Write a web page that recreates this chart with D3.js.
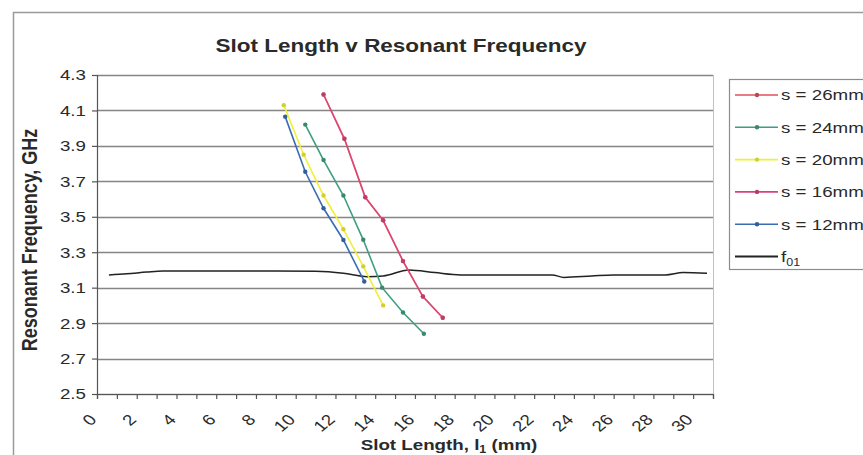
<!DOCTYPE html>
<html><head><meta charset="utf-8">
<script src="https://cdn.jsdelivr.net/npm/d3@7"></script>
<style>body{margin:0;background:#fff}svg{display:block;font-family:"Liberation Sans",Arial,sans-serif}</style>
</head><body><svg id="c" width="863" height="455"></svg>
<script>
const title = "Slot Length v Resonant Frequency";
const yTicks = [2.5, 2.7, 2.9, 3.1, 3.3, 3.5, 3.7, 3.9, 4.1, 4.3];
const xTickLabels = [0,2,4,6,8,10,12,14,16,18,20,22,24,26,28,30];
const xMinorTicks = d3.range(0, 32);
const seriesNames = ["s = 26mm","s = 24mm","s = 20mm","s = 16mm","s = 12mm"];
const seriesColors = ["#e0505e","#3f9e82","#f0f038","#d8407e","#3a6cb4"];
const s26x = [11.4,12.45,13.5,14.4,15.4,16.4,17.4];
const s26y = [4.19,3.94,3.61,3.48,3.25,3.05,2.93];
const s24x = [10.48,11.4,12.4,13.4,14.35,15.4,16.45];
const s24y = [4.02,3.82,3.62,3.37,3.10,2.96,2.84];
const s20x = [9.4,10.4,11.4,12.4,13.4,14.4];
const s20y = [4.13,3.85,3.62,3.43,3.22,3.00];
const s16x = [11.4,12.45,13.5,14.4,15.4,16.4,17.4];
const s16y = [4.19,3.94,3.61,3.48,3.25,3.05,2.93];
const s12x = [9.47,10.48,11.4,12.4,13.45];
const s12y = [4.065,3.754,3.548,3.369,3.135];
const f01x = [0.6,1.5,2.5,3.3,5,7,9,11,12.4,13.6,14.4,15.7,17,18.3,20,22,22.9,23.5,24.9,26,28,28.6,29.5,30.7];
const f01y = [3.172,3.178,3.188,3.194,3.194,3.194,3.194,3.192,3.181,3.162,3.166,3.2,3.185,3.172,3.172,3.172,3.172,3.158,3.166,3.172,3.172,3.172,3.185,3.181];

const SX = 1.25;
const svg = d3.select("#c");
const L = 97, R = 713, T = 75, B = 394;
const x = d3.scaleLinear().domain([0,31]).range([L,R]);
const y = d3.scaleLinear().domain([2.5,4.3]).range([B,T]);

// outer frame
svg.append("rect").attr("x",13.5).attr("y",12.5).attr("width",900).attr("height",500)
  .attr("fill","none").attr("stroke","#9a9a9a").attr("stroke-width",1.5);

// title
svg.append("text").attr("transform",`translate(401,52) scale(${SX},1)`)
  .attr("text-anchor","middle").attr("font-size",18).attr("font-weight","bold").attr("fill","#2a2a2a").text(title);

// gridlines
svg.append("g").selectAll("line").data(yTicks).join("line")
  .attr("x1",L).attr("x2",R).attr("y1",d=>Math.round(y(d))+0.5).attr("y2",d=>Math.round(y(d))+0.5)
  .attr("stroke","#858585").attr("stroke-width",1.3);
// right border
svg.append("line").attr("x1",R+0.5).attr("x2",R+0.5).attr("y1",T).attr("y2",B).attr("stroke","#c0c0c0");

// y axis
const yAx = svg.append("g").attr("transform",`translate(${L},0)`)
  .call(d3.axisLeft(y).tickValues(yTicks).tickSize(5).tickFormat(""));
yAx.selectAll("path,line").attr("stroke","#555").attr("stroke-width",1.2);
svg.append("g").selectAll("text").data(yTicks).join("text")
  .attr("transform",d=>`translate(86,${y(d)}) scale(${SX},1)`).attr("dy","0.36em")
  .attr("text-anchor","end").attr("font-size",15).attr("fill","#2a2a2a").text(d=>d.toFixed(1));

// x axis
const xAx = svg.append("g").attr("transform",`translate(0,${B})`)
  .call(d3.axisBottom(x).tickValues(xMinorTicks).tickSize(5).tickFormat(""));
xAx.selectAll("path,line").attr("stroke","#555").attr("stroke-width",1.2);
svg.append("g").selectAll("text").data(xTickLabels).join("text")
  .attr("transform",d=>`translate(${x(d)-4},417) scale(${SX},1) rotate(-45)`).attr("dy","0.35em")
  .attr("text-anchor","end").attr("font-size",15).attr("fill","#2a2a2a").text(d=>d);

// axis titles
svg.append("text").attr("transform",`translate(37,240) scale(${SX},1) rotate(-90)`)
  .attr("text-anchor","middle").attr("font-size",18).attr("font-weight","bold").attr("fill","#2a2a2a")
  .text("Resonant Frequency, GHz");
const xt = svg.append("text").attr("transform",`translate(449,450) scale(${SX},1)`)
  .attr("text-anchor","middle").attr("font-size",15).attr("font-weight","bold").attr("fill","#2a2a2a");
xt.append("tspan").text("Slot Length, l");
xt.append("tspan").attr("font-size",10).attr("dy",3).text("1");
xt.append("tspan").attr("dy",-3).text(" (mm)");

// data
const seriesX = [s26x,s24x,s20x,s16x,s12x];
const seriesY = [s26y,s24y,s20y,s16y,s12y];
const line = d3.line().x(d=>x(d[0])).y(d=>y(d[1]));
const g = svg.append("g");
// f01
g.append("path").datum(f01x.map((v,i)=>[v,f01y[i]]))
  .attr("d", d3.line().x(d=>x(d[0])).y(d=>y(d[1])).curve(d3.curveMonotoneX))
  .attr("fill","none").attr("stroke","#222").attr("stroke-width",1.5);
seriesX.forEach((xs,k)=>{
  const pts = xs.map((v,i)=>[v,seriesY[k][i]]);
  const op = k===3 ? 0.6 : 1;
  g.append("path").datum(pts).attr("d",line).attr("fill","none")
    .attr("stroke",seriesColors[k]).attr("stroke-width",1.6).attr("opacity",op);
  g.selectAll(null).data(pts).join("circle").attr("cx",d=>x(d[0])).attr("cy",d=>y(d[1]))
    .attr("r",2.2).attr("fill",d3.color(seriesColors[k]).darker(0.4)).attr("opacity",op);
});

// legend
svg.append("rect").attr("x",729.5).attr("y",79.5).attr("width",200).attr("height",190)
  .attr("fill","#fff").attr("stroke","#8c8c8c").attr("stroke-width",1.2);
const legNames = seriesNames.concat(["f01"]);
const legColors = seriesColors.concat(["#222"]);
legNames.forEach((n,i)=>{
  const yy = 95 + i*32.3;
  svg.append("line").attr("x1",735).attr("x2",778).attr("y1",yy).attr("y2",yy)
    .attr("stroke",legColors[i]).attr("stroke-width",i===5?2:1.6);
  if(i<5) svg.append("circle").attr("cx",757).attr("cy",yy).attr("r",2.2).attr("fill",d3.color(legColors[i]).darker(0.4));
  const t = svg.append("text").attr("transform",`translate(781,${yy}) scale(${SX},1)`).attr("dy","0.36em")
    .attr("font-size",15).attr("fill","#2a2a2a");
  if(i<5) t.text(n);
  else { t.append("tspan").text("f"); t.append("tspan").attr("font-size",10).attr("dy",4).text("01"); }
});
</script></body></html>
